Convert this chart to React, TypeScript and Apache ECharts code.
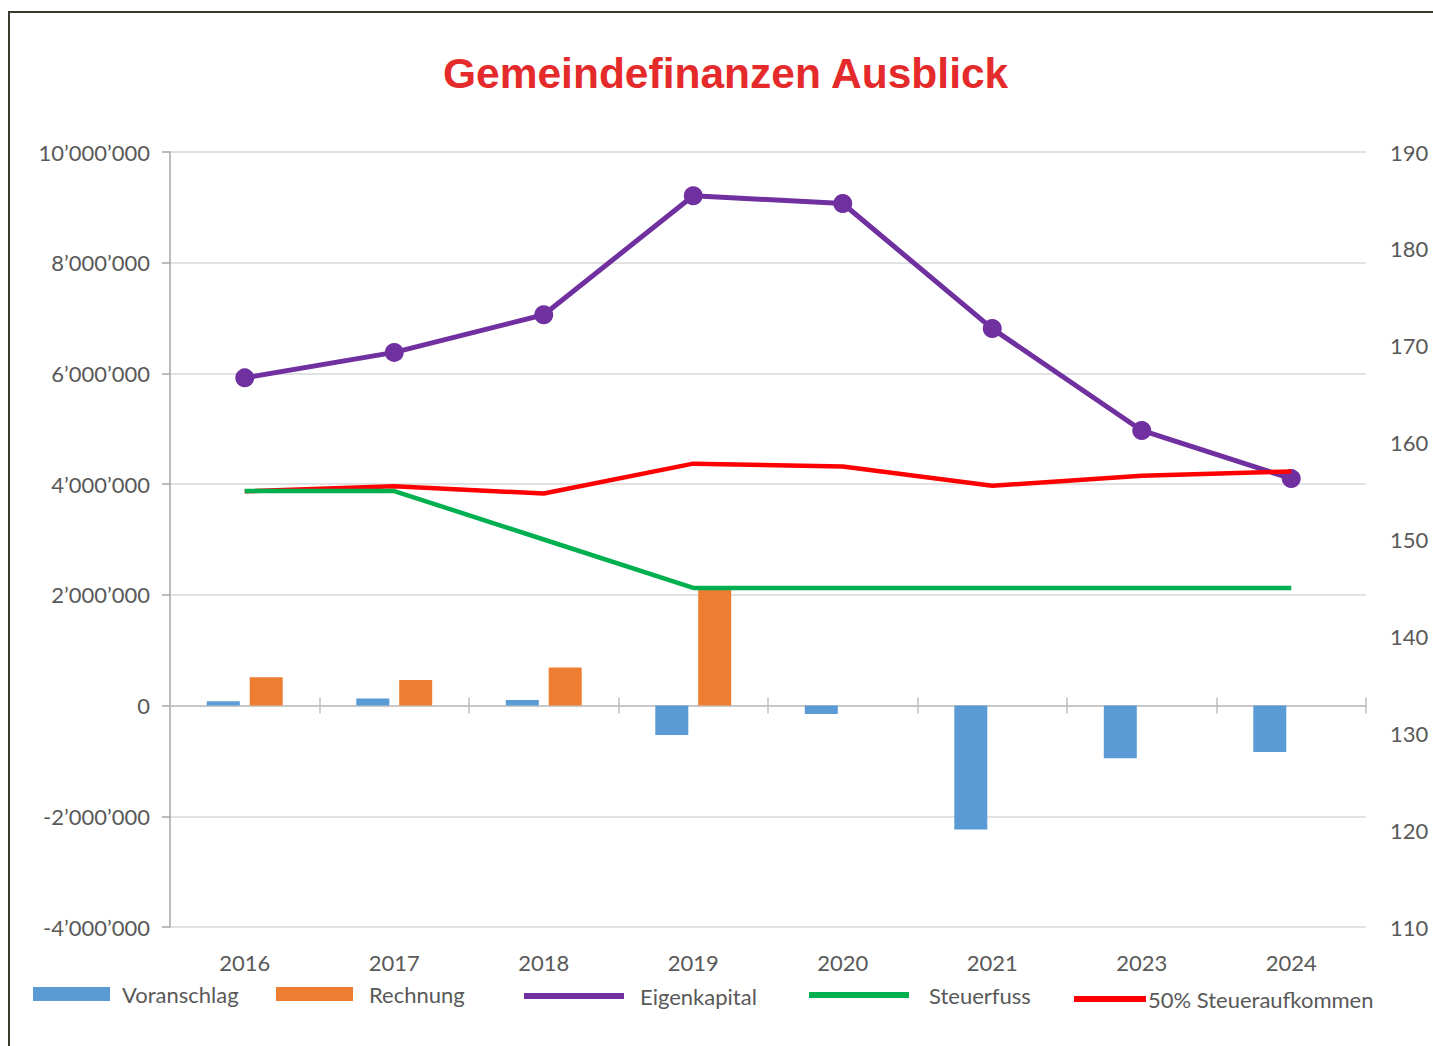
import React, { useEffect, useRef } from "react";
import * as echarts from "echarts";

const years = ["2016", "2017", "2018", "2019", "2020", "2021", "2023", "2024"];
const voranschlag = [76000, 130000, 100000, -530000, -150000, -2240000, -950000, -840000];
const rechnung: (number | null)[] = [510000, 460000, 690000, 2120000, null, null, null, null];
const eigenkapital = [5920000, 6380000, 7060000, 9210000, 9070000, 6810000, 4970000, 4100000];
const steuerfuss = [155, 155, 150, 145, 145, 145, 145, 145];
const steueraufkommen = [3870000, 3960000, 3830000, 4370000, 4320000, 3970000, 4150000, 4230000];

const leftMin = -4000000;
const leftMax = 10000000;
const leftStep = 2000000;
const rightMin = 110;
const rightMax = 190;
const rightStep = 10;

const fmt = (v: number) => {
  const s = Math.abs(v).toString().replace(/\B(?=(\d{3})+(?!\d))/g, "\u2019");
  return (v < 0 ? "-" : "") + s;
};

const FONT = "Lato, 'Noto Sans', sans-serif";
const GREY = "#595959";

export default function App() {
  const ref = useRef<HTMLDivElement>(null);
  useEffect(() => {
    if (!ref.current) return;
    const chart = echarts.init(ref.current, undefined, { renderer: "svg" });
    const legendBase = (left: number, name: string, w: number, h: number, pad: number, top: number) => ({
      left,
      top,
      padding: 0,
      orient: "horizontal",
      itemWidth: w,
      itemHeight: h,
      icon: "rect",
      data: [name],
      selectedMode: false,
      textStyle: { color: GREY, fontSize: 22, fontFamily: FONT, padding: [0, 0, 0, pad] },
    });
    chart.setOption({
      animation: false,
      backgroundColor: "#ffffff",
      title: {
        text: "Gemeindefinanzen Ausblick",
        left: 443,
        top: 52,
        padding: 0,
        textStyle: {
          color: "#E42A2A",
          fontSize: 42.5,
          fontWeight: "bold",
          fontFamily: "'Liberation Sans', Arial, sans-serif",
        },
      },
      graphic: [
        {
          type: "rect",
          shape: { x: 9, y: 12, width: 1600, height: 1200 },
          style: { fill: "none", stroke: "#3b3b2f", lineWidth: 2 },
          silent: true,
        },
      ],
      legend: [
        legendBase(33, "Voranschlag", 77, 14, 7, 983),
        legendBase(276, "Rechnung", 77, 14, 11, 983),
        legendBase(524, "Eigenkapital", 100, 6, 11, 985),
        legendBase(809, "Steuerfuss", 100, 6, 15, 984),
        legendBase(1074, "50% Steueraufkommen", 72, 6, -3, 988),
      ],
      grid: { left: 170, right: 67, top: 152, bottom: 119, containLabel: false },
      xAxis: [
        {
          type: "category",
          data: years,
          position: "bottom",
          axisLine: { show: false, onZero: false },
          axisTick: { show: false },
          axisLabel: { color: GREY, fontSize: 22, fontFamily: FONT, margin: 24 },
          splitLine: { show: false },
        },
        {
          type: "category",
          data: years,
          position: "bottom",
          axisLine: { show: true, onZero: true, onZeroAxisIndex: 0, lineStyle: { color: "#bfbfbf", width: 1.5 } },
          axisTick: { show: true, length: 8, lineStyle: { color: "#bfbfbf", width: 1.5 } },
          axisLabel: { show: false },
          splitLine: { show: false },
        },
        {
          type: "category",
          data: years,
          position: "bottom",
          axisLine: { show: false, onZero: true, onZeroAxisIndex: 0 },
          axisTick: { show: true, inside: true, length: 8, lineStyle: { color: "#bfbfbf", width: 1.5 } },
          axisLabel: { show: false },
          splitLine: { show: false },
        },
      ],
      yAxis: [
        {
          type: "value",
          position: "left",
          min: leftMin,
          max: leftMax,
          interval: leftStep,
          axisLine: { show: true, lineStyle: { color: "#a6a6a6", width: 1.5 } },
          axisTick: { show: true, length: 8, lineStyle: { color: "#a6a6a6", width: 1.5 } },
          axisLabel: { color: GREY, fontSize: 22, fontFamily: FONT, margin: 20, formatter: fmt },
          splitLine: { show: true, lineStyle: { color: "#d9d9d9", width: 1.5 } },
        },
        {
          type: "value",
          position: "right",
          min: rightMin,
          max: rightMax,
          interval: rightStep,
          axisLine: { show: false },
          axisTick: { show: false },
          axisLabel: { color: GREY, fontSize: 22, fontFamily: FONT, margin: 24 },
          splitLine: { show: false },
        },
      ],
      series: [
        {
          name: "Voranschlag",
          type: "bar",
          xAxisIndex: 0,
          yAxisIndex: 0,
          data: voranschlag,
          barWidth: 33,
          barGap: "30%",
          itemStyle: { color: "#5B9BD5" },
        },
        {
          name: "Rechnung",
          type: "bar",
          xAxisIndex: 0,
          yAxisIndex: 0,
          data: rechnung,
          barWidth: 33,
          barGap: "30%",
          itemStyle: { color: "#ED7D31" },
        },
        {
          name: "Eigenkapital",
          type: "line",
          xAxisIndex: 0,
          yAxisIndex: 0,
          data: eigenkapital,
          symbol: "circle",
          symbolSize: 19,
          lineStyle: { color: "#7030A0", width: 5 },
          itemStyle: { color: "#7030A0" },
          z: 3,
        },
        {
          name: "50% Steueraufkommen",
          type: "line",
          xAxisIndex: 0,
          yAxisIndex: 0,
          data: steueraufkommen,
          symbol: "none",
          lineStyle: { color: "#FF0000", width: 4.5 },
          itemStyle: { color: "#FF0000" },
          z: 4,
        },
        {
          name: "Steuerfuss",
          type: "line",
          xAxisIndex: 0,
          yAxisIndex: 1,
          data: steuerfuss,
          symbol: "none",
          lineStyle: { color: "#00B050", width: 4.5 },
          itemStyle: { color: "#00B050" },
          z: 5,
        },
      ],
    });
    return () => chart.dispose();
  }, []);
  return (
    <div
      ref={ref}
      style={{ position: "fixed", left: 0, top: 0, width: 1433, height: 1046, background: "#fff" }}
    />
  );
}
